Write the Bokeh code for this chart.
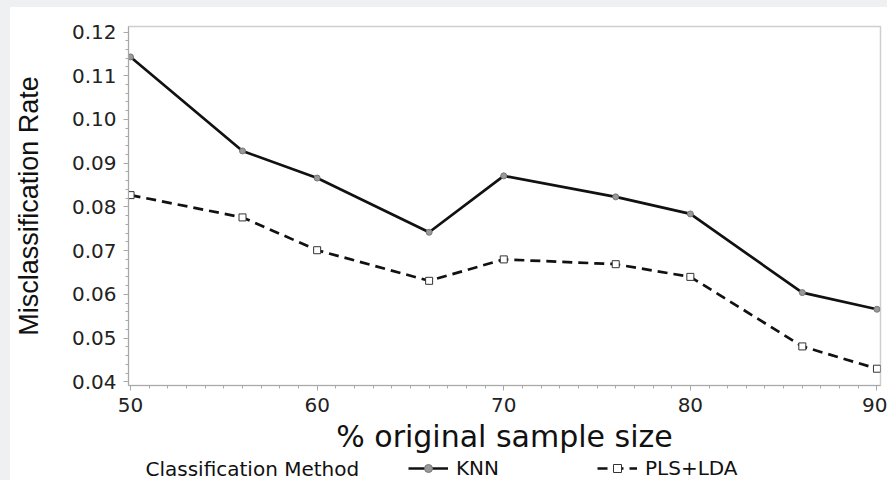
from bokeh.plotting import figure
from bokeh.layouts import column, row
from bokeh.models import (Legend, LegendItem, Label, SingleIntervalTicker,
                          NumeralTickFormatter, Range1d, Spacer)
from bokeh.embed import file_html
from bokeh.resources import INLINE

# ---- data ----
sample_pct = [50, 56, 60, 66, 70, 76, 80, 86, 90]
knn_rate = [0.1143, 0.0928, 0.0866, 0.0742, 0.0871, 0.0823, 0.0784, 0.0604, 0.0566]
plslda_rate = [0.0827, 0.0776, 0.0701, 0.0631, 0.0680, 0.0669, 0.0640, 0.0481, 0.0430]
series_names = ["KNN", "PLS+LDA"]
legend_title = "Classification Method"
x_title = "% original sample size"
y_title = "Misclassification Rate"

TICK_FONT = "DejaVu Sans"
INK = "#111111"
AXIS_GRAY = "#a8a8a8"
PAGE_GRAY = "#eff0f2"

# ---------------- main plot ----------------
p = figure(width=877, height=449, output_backend="svg", toolbar_location=None,
           x_range=Range1d(49.89, 90.19), y_range=Range1d(0.03916, 0.12126),
           min_border_left=116, min_border_right=7, min_border_top=19,
           min_border_bottom=70)
p.background_fill_color = "white"
p.border_fill_color = "white"
p.outline_line_color = "#cfcfcf"
p.outline_line_width = 1.5
p.grid.visible = False

p.xaxis.ticker = SingleIntervalTicker(interval=10, num_minor_ticks=10)
p.yaxis.ticker = SingleIntervalTicker(interval=0.01, num_minor_ticks=5)
p.yaxis.formatter = NumeralTickFormatter(format="0.00")
for ax in (p.xaxis, p.yaxis):
    ax.axis_line_color = AXIS_GRAY
    ax.major_tick_line_color = AXIS_GRAY
    ax.minor_tick_line_color = AXIS_GRAY
    ax.major_tick_out = 5
    ax.major_tick_in = 0
    ax.minor_tick_out = 3
    ax.minor_tick_in = 0
    ax.major_label_text_font = TICK_FONT
    ax.major_label_text_font_size = "20px"
    ax.major_label_text_color = "#222222"
    ax.axis_label_text_font_style = "normal"
    ax.axis_label_text_color = "#111111"

p.xaxis.axis_label = x_title
p.xaxis.axis_label_text_font = "DejaVu Sans"
p.xaxis.axis_label_text_font_size = "30px"
p.xaxis.major_label_standoff = 7
p.xaxis.axis_label_standoff = 4

p.yaxis.axis_label = y_title
p.yaxis.axis_label_text_font = "Liberation Sans"
p.yaxis.axis_label_text_font_size = "27px"
p.yaxis.major_label_standoff = 7
p.yaxis.axis_label_standoff = 25

knn_style = dict(line_color=INK, line_width=2.7)
pls_style = dict(line_color=INK, line_width=2.7, line_dash="10 6")
knn_mark = dict(marker="circle", size=6, line_color="#777777", fill_color="#999999", line_width=1)
pls_mark = dict(marker="square", size=7, line_color="#333333", fill_color="white", line_width=1)

p.line(sample_pct, knn_rate, **knn_style)
p.scatter(sample_pct, knn_rate, **knn_mark)
p.line(sample_pct, plslda_rate, **pls_style)
p.scatter(sample_pct, plslda_rate, **pls_mark)

# ---------------- legend strip (same series, ranges keep them off-view) ----------------
lg = figure(width=877, height=24, output_backend="svg", toolbar_location=None,
            x_axis_location=None, y_axis_location=None,
            x_range=Range1d(0, 1), y_range=Range1d(0, 1),
            min_border=0, min_border_left=0, min_border_right=0,
            min_border_top=0, min_border_bottom=0)
lg.outline_line_color = None
lg.grid.visible = False
lg.background_fill_color = "white"
lg.border_fill_color = "white"

s_knn_l = lg.line(sample_pct, knn_rate, **knn_style)
s_knn_m = lg.scatter(sample_pct, knn_rate, **knn_mark)
s_pls_l = lg.line(sample_pct, plslda_rate, **pls_style)
s_pls_m = lg.scatter(sample_pct, plslda_rate, **pls_mark)

legend = Legend(items=[LegendItem(label=series_names[0], renderers=[s_knn_l, s_knn_m], index=0),
                       LegendItem(label=series_names[1], renderers=[s_pls_l, s_pls_m], index=0)],
                orientation="horizontal", location=(280, 0),
                padding=0, margin=0, spacing=49, glyph_width=40, glyph_height=20,
                label_height=20, label_width=92, label_standoff=8,
                label_text_font="DejaVu Sans", label_text_font_size="20px",
                label_text_color="#111111",
                background_fill_alpha=0, border_line_alpha=0)
lg.add_layout(legend)

lg.add_layout(Label(x=17, y=12, x_units="screen", y_units="screen",
                    text=legend_title, text_font="DejaVu Sans", text_font_size="20px",
                    text_color="#111111", text_baseline="middle", text_align="left"))

inner = column(p, lg, spacing=0, styles={"background-color": "white"})
layout = column(Spacer(width=887, height=7),
                row(Spacer(width=10, height=473), inner, spacing=0),
                spacing=0, styles={"background-color": PAGE_GRAY})
open("out.html", "w").write(file_html(layout, INLINE))
